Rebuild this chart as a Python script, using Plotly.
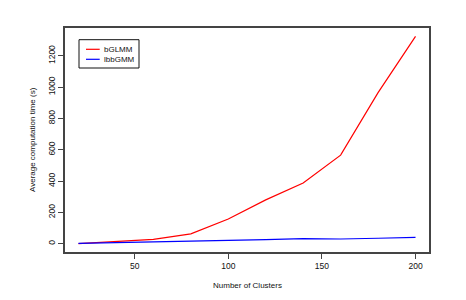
import plotly.graph_objects as go

clusters = [20, 40, 60, 80, 100, 120, 140, 160, 180, 200]
bglmm = [0, 12, 28, 63, 158, 280, 388, 566, 965, 1325]
ibbgmm = [2, 6, 10, 14, 19, 26, 33, 30, 35, 41]
x_ticks = [50, 100, 150, 200]
y_ticks = [0, 200, 400, 600, 800, 1000, 1200]
series_names = ["bGLMM", "lbbGMM"]
series_colors = ["#ff0000", "#0000ff"]

# page has an 8px body margin; figure sized so page is 466x300
OFF = 8
W, H = 466 - OFF, 300 - OFF
# plot area in page pixels: x 65..429, y 28..252
L, T = 65 - OFF, 28 - OFF
R, B = W - (429 - OFF), H - (252 - OFF)
pw, ph = W - L - R, H - T - B


def px(x):
    return (x - OFF - L) / pw


def py(y):
    return 1 - (y - OFF - T) / ph


fig = go.Figure()
for name, vals, col in zip(series_names, [bglmm, ibbgmm], series_colors):
    fig.add_trace(go.Scatter(x=clusters, y=vals, mode="lines", name=name,
                             line=dict(color=col, width=1.2), showlegend=False))

axis_common = dict(showline=True, mirror=True, linecolor="#444444", linewidth=1.5,
                   ticks="outside", ticklen=5, tickcolor="#444444",
                   showgrid=False, zeroline=False, automargin=False,
                   tickfont=dict(family="Liberation Sans, Arial", size=8.5, color="#111111"))

fig.update_layout(
    width=W, height=H,
    margin=dict(l=L, r=R, t=T, b=B, autoexpand=False),
    plot_bgcolor="white", paper_bgcolor="white",
    font=dict(family="Liberation Sans, Arial", size=8, color="#111111"),
    xaxis=dict(range=[12.8, 207.2], tickvals=x_ticks, **axis_common),
    yaxis=dict(range=[-53, 1378], tickvals=y_ticks, tickangle=-90, **axis_common),
    showlegend=False,
)

# axis titles
fig.add_annotation(text="Number of Clusters", xref="paper", yref="paper",
                   x=0.5, y=py(285), xanchor="center", yanchor="middle",
                   showarrow=False, font=dict(size=8))
fig.add_annotation(text="Average computation time (s)", xref="paper", yref="paper",
                   x=px(32), y=0.5, xanchor="center", yanchor="middle", textangle=-90,
                   showarrow=False, font=dict(size=8))

# legend box
fig.add_shape(type="rect", xref="paper", yref="paper",
              x0=px(79), x1=px(139), y0=py(68), y1=py(39.7),
              line=dict(color="#111111", width=1), fillcolor="white", layer="above")
for i, (name, col) in enumerate(zip(series_names, series_colors)):
    yy = 49.3 + 10 * i
    fig.add_shape(type="line", xref="paper", yref="paper",
                  x0=px(86), x1=px(99.7), y0=py(yy), y1=py(yy),
                  line=dict(color=col, width=1.2), layer="above")
    fig.add_annotation(text=name, xref="paper", yref="paper",
                       x=px(102), y=py(yy), xanchor="left", yanchor="middle",
                       showarrow=False, font=dict(size=8))

fig.write_html("out.html")
